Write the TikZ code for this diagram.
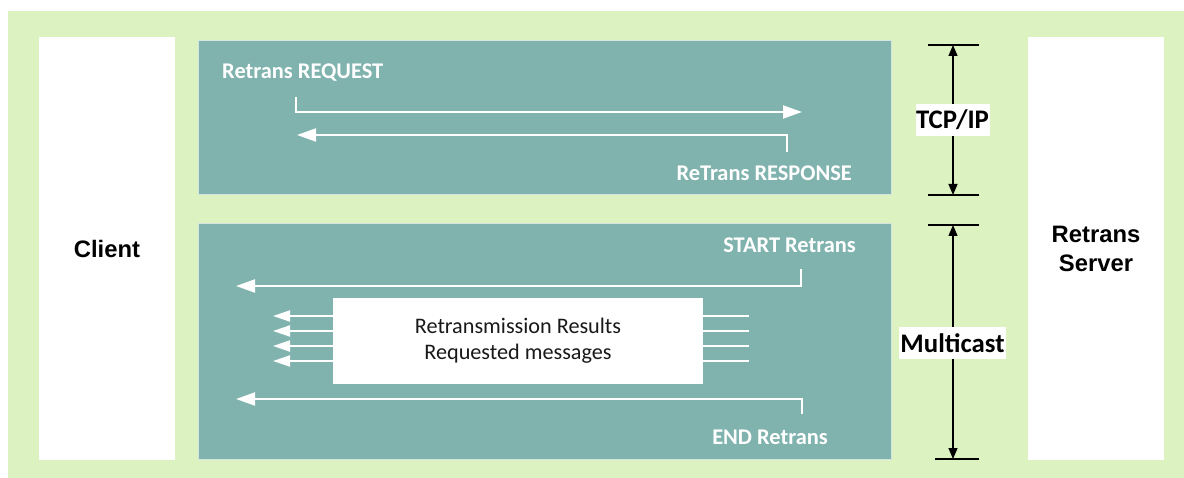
\documentclass[tikz,border=0pt]{standalone}
\usepackage{fontspec}
\setmainfont{Carlito}
\newfontfamily\arialfont{Liberation Sans}
\usetikzlibrary{arrows.meta}
\definecolor{bggreen}{HTML}{DDF2C1}
\definecolor{panelteal}{HTML}{80B3AE}
\definecolor{panelrim}{HTML}{D2E6DF}
\begin{document}
\begin{tikzpicture}[x=1pt,y=-1pt,
  endbox/.style={fill=white,draw=none,inner sep=0pt,font=\arialfont\bfseries\fontsize{23.8}{29}\selectfont,align=center},
  panel/.style={fill=panelteal,draw=panelrim,line width=1pt,inner sep=0pt},
  wlabel/.style={text=white,inner sep=0pt,font=\bfseries\fontsize{22.4}{26}\selectfont},
  dimlabel/.style={fill=white,inner sep=0pt,font=\bfseries\fontsize{26.8}{30}\selectfont},
  wline/.style={draw=white,line width=2pt},
  bigtip/.style={-{Triangle[length=19pt,width=13pt]}},
  smalltip/.style={-{Triangle[length=17pt,width=11pt]}},
  dimline/.style={draw=black,line width=1.2pt,{Triangle[length=11pt,width=9pt]}-{Triangle[length=11pt,width=9pt]}},
  tick/.style={draw=black,line width=1.2pt}]
\useasboundingbox (0,0) rectangle (1184,478);
\fill[bggreen] (8,11) rectangle (1184,478);

% end boxes
\node[endbox,minimum width=136pt,minimum height=423pt] (client) at (107,248.5) {Client};
\node[endbox,minimum width=136pt,minimum height=423pt] (server) at (1096,248.5) {Retrans\\Server};

% panels
\node[panel,minimum width=693pt,minimum height=154pt] (tcppanel) at (544.5,118) {};
\node[panel,minimum width=693pt,minimum height=235pt] (mcpanel) at (544.5,341.5) {};

% TCP/IP panel labels and arrows
\node[wlabel,anchor=west] (req) at (222,73) {Retrans REQUEST};
\node[wlabel,anchor=east] (resp) at (852,173) {ReTrans RESPONSE};
\coordinate (reqS) at (296,97);
\coordinate (reqE) at (802,112);
\coordinate (resS) at (787,152);
\coordinate (resE) at (297,135);
\draw[wline,bigtip] (reqS) |- (reqE);
\draw[wline,bigtip] (resS) |- (resE);

% Multicast panel
\node[wlabel,anchor=east] (start) at (856,245) {START Retrans};
\node[wlabel,anchor=east] (endr) at (828,437) {END Retrans};
\coordinate (stS) at (801,269);
\coordinate (stE) at (236,286);
\coordinate (enS) at (802,414);
\coordinate (enE) at (236,399);
\draw[wline,bigtip] (stS) |- (stE);
\draw[wline,bigtip] (enS) |- (enE);

\node[fill=white,inner sep=0pt,minimum width=370pt,minimum height=86pt,align=center,
  font=\fontsize{22.2}{26}\selectfont,text=black!90] (results) at (518,341) {Retransmission Results\\Requested messages};

\foreach \yy [count=\i] in {316,331,346,361}{
  \coordinate (rs\i) at (749,\yy);
  \coordinate (ls\i) at (273,\yy);
  \draw[wline] (rs\i) -- (results.east |- rs\i);
  \draw[wline,smalltip] (results.west |- ls\i) -- (ls\i);
}

% dimension markers
\coordinate (t1) at (953,45);
\coordinate (t2) at (953,195);
\coordinate (m1) at (953,225);
\coordinate (m2) at (953,459);
\draw[tick] (928,45) -- (979,45);
\draw[tick] (928,195) -- (979,195);
\draw[tick] (928,225) -- (979,225);
\draw[tick] (935,459) -- (979,459);
\draw[dimline] (t1) -- (t2);
\draw[dimline] (m1) -- (m2);
\node[dimlabel,minimum width=74pt,minimum height=32pt] (tcplbl) at (952.5,120) {TCP/IP};
\node[dimlabel,minimum width=107pt,minimum height=32pt] (mclbl) at (952.5,343) {Multicast};
\end{tikzpicture}
\end{document}
